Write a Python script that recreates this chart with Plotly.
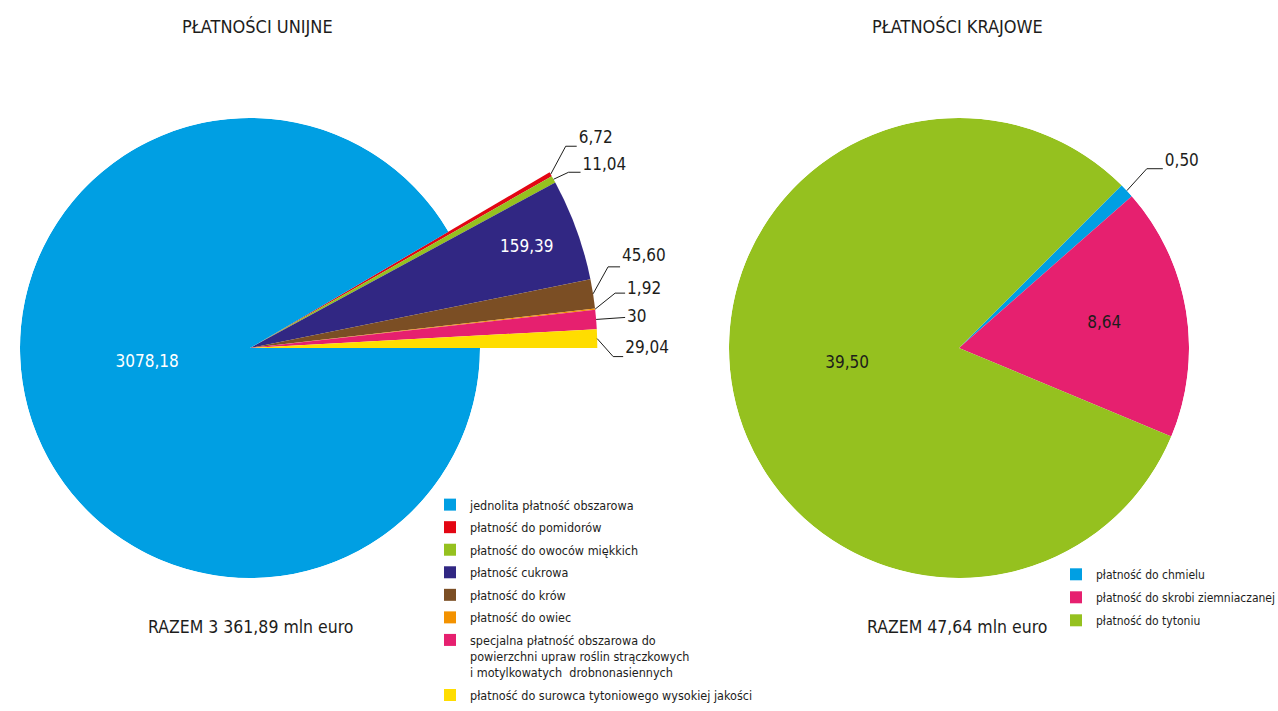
import math
import plotly.graph_objects as go

# ---------------- data ----------------
eu_labels = [
    "jednolita płatność obszarowa",
    "płatność do pomidorów",
    "płatność do owoców miękkich",
    "płatność cukrowa",
    "płatność do krów",
    "płatność do owiec",
    "specjalna płatność obszarowa do<br>powierzchni upraw roślin strączkowych<br>i motylkowatych  drobnonasiennych",
    "płatność do surowca tytoniowego wysokiej jakości",
]
eu_values = [3078.18, 6.72, 11.04, 159.39, 45.60, 1.92, 30, 29.04]
eu_colors = ["#009FE3", "#E30613", "#95C11F", "#312783", "#7B4E24", "#F39200", "#E6206F", "#FFDD00"]

pl_labels = ["płatność do chmielu", "płatność do skrobi ziemniaczanej", "płatność do tytoniu"]
pl_values = [0.50, 8.64, 39.50]
pl_colors = ["#009FE3", "#E6206F", "#95C11F"]

eu_title = "PŁATNOŚCI UNIJNE"
pl_title = "PŁATNOŚCI KRAJOWE"
eu_total = "RAZEM 3 361,89 mln euro"
pl_total = "RAZEM 47,64 mln euro"

# ---------------- style / layout ----------------
W, H = 1278, 711
FONT = "DejaVu Sans Condensed, DejaVu Sans, sans-serif"
TXT = "#1D1D1B"
PIE_R = 230                 # px radius of the pies
EU_C = (250, 348)           # centre of left pie (px)
PL_C = (959, 348)           # centre of right pie (px)
EU_START = 0                # screen angle (deg, ccw from 3 o'clock) where the first slice starts
PL_START = 45
R_OUT = 1.51                # radius of the enlarged slices, in pie radii
EU_RANGE = 1.95
PL_RANGE = 1.45
LBL = 17
LEG = 12.5
LEG2 = 12

# leader-line offsets in px: (dx to elbow, dy to elbow (up), horizontal tail, text dy)
eu_leaders = {1: (15, 28, 11, 7), 2: (15, 7, 12, 7), 4: (15, 27, 12, 10),
              5: (20, 16, 10, 3), 6: (29, 2, 0, 0), 7: (16, -18, 10, 8)}
pl_leaders = {0: (20, 22, 16, 7)}
# inside-label placement: (radius fraction, dx px, dy px, colour)
eu_inside = {0: (0.45, -3, 12, "white"), 3: (1.28, 0, 0, "white")}
pl_inside = {1: (0.64, 0, 0, TXT), 2: (0.50, 1, 7, TXT)}


def fmt(v):
    if float(v).is_integer():
        return str(int(v))
    return f"{v:.2f}".replace(".", ",")


def slice_angles(values):
    tot = sum(values)
    out, acc = [], 0.0
    for v in values:
        span = v / tot * 360.0
        out.append((acc + span / 2.0, span))
        acc += span
    return out


def sector_bbox(s0, s1):
    pts = [(0.0, 0.0)]
    for a in (s0, s1):
        pts.append((math.cos(math.radians(a)), math.sin(math.radians(a))))
    for a in range(-360, 721, 90):
        if s0 <= a <= s1:
            pts.append((math.cos(math.radians(a)), math.sin(math.radians(a))))
    xs = [p[0] for p in pts]
    ys = [p[1] for p in pts]
    return min(xs), min(ys), max(xs), max(ys)


def polar_domain(c, rpx, sector):
    x0, y0, x1, y1 = sector_bbox(*sector)
    left, right = c[0] + rpx * x0, c[0] + rpx * x1
    top, bottom = c[1] - rpx * y1, c[1] - rpx * y0
    return dict(x=[left / W, right / W], y=[(H - bottom) / H, (H - top) / H])


def offset_polar(theta, r, dx, dy, rot):
    # polar axis: clockwise, theta=0 at screen angle `rot`
    a = math.radians(rot - theta)
    x, y = r * math.cos(a) + dx / PIE_R, r * math.sin(a) + dy / PIE_R
    return rot - math.degrees(math.atan2(y, x)), math.hypot(x, y)


def text_trace(subplot, theta, r, text, color, pos):
    return go.Scatterpolar(r=[r], theta=[theta], mode="text", text=[text], textposition=pos,
                           textfont=dict(color=color, size=LBL, family=FONT),
                           subplot=subplot, showlegend=False, hoverinfo="skip")


def leader_traces(subplot, theta, r, spec, text, rot):
    dx1, dy1, dx2, tdy = spec
    th1, r1 = offset_polar(theta, r, dx1, dy1, rot)
    th2, r2 = offset_polar(theta, r, dx1 + dx2, dy1, rot)
    th3, r3 = offset_polar(theta, r, dx1 + dx2 + 2, dy1 + tdy, rot)
    line = go.Scatterpolar(r=[r, r1, r2], theta=[theta, th1, th2], mode="lines",
                           line=dict(color=TXT, width=1), subplot=subplot,
                           showlegend=False, hoverinfo="skip")
    return [line, text_trace(subplot, th3, r3, text, TXT, "middle right")]


fig = go.Figure()

# ---------- left chart: one bar (slice) per category ----------
eu_ang = slice_angles(eu_values)
for i, (lab, val, col) in enumerate(zip(eu_labels, eu_values, eu_colors)):
    big = (i == 0)
    fig.add_trace(go.Barpolar(
        r=[1.0 if big else R_OUT], theta=[eu_ang[i][0]], width=[eu_ang[i][1]],
        marker=dict(color=col, line=dict(width=0)), name=lab,
        subplot="polar3" if big else "polar",
        legend="legend", legendgroup=f"eu{i}", showlegend=True,
        hovertemplate=f"{fmt(val)}<extra></extra>",
    ))
for i, (rf, dx, dy, col) in eu_inside.items():
    th, r = offset_polar(eu_ang[i][0], rf, dx, dy, EU_START)
    fig.add_trace(text_trace("polar3" if i == 0 else "polar", th, r, fmt(eu_values[i]), col,
                             "middle center"))
for i, spec in eu_leaders.items():
    for t in leader_traces("polar", eu_ang[i][0], R_OUT, spec, fmt(eu_values[i]), EU_START):
        fig.add_trace(t)

# ---------- right chart ----------
pl_ang = slice_angles(pl_values)
for i, (lab, val, col) in enumerate(zip(pl_labels, pl_values, pl_colors)):
    fig.add_trace(go.Barpolar(
        r=[1.0], theta=[pl_ang[i][0]], width=[pl_ang[i][1]],
        marker=dict(color=col, line=dict(width=0)), name=lab, subplot="polar4",
        legend="legend2", legendgroup=f"pl{i}", showlegend=True,
        hovertemplate=f"{fmt(val)}<extra></extra>",
    ))
for i, (rf, dx, dy, col) in pl_inside.items():
    th, r = offset_polar(pl_ang[i][0], rf, dx, dy, PL_START)
    fig.add_trace(text_trace("polar4", th, r, fmt(pl_values[i]), col, "middle center"))
for i, spec in pl_leaders.items():
    for t in leader_traces("polar2", pl_ang[i][0], 1.0, spec, fmt(pl_values[i]), PL_START):
        fig.add_trace(t)

EU_SECTOR = [-6, 40]
PL_SECTOR = [28, 58]
FULL = [0, 360]
hidden_polar = dict(
    bgcolor="rgba(0,0,0,0)", bargap=0,
    radialaxis=dict(visible=False, showgrid=False, showline=False, showticklabels=False),
    angularaxis=dict(visible=False, showgrid=False, showline=False, showticklabels=False,
                     direction="clockwise"),
)
fig.update_layout(
    polar=dict(**hidden_polar, sector=EU_SECTOR, domain=polar_domain(EU_C, EU_RANGE * PIE_R, EU_SECTOR)),
    polar2=dict(**hidden_polar, sector=PL_SECTOR, domain=polar_domain(PL_C, PL_RANGE * PIE_R, PL_SECTOR)),
    polar3=dict(**hidden_polar, sector=FULL, domain=polar_domain(EU_C, PIE_R, FULL)),
    polar4=dict(**hidden_polar, sector=FULL, domain=polar_domain(PL_C, PIE_R, FULL)),
)
fig.update_layout(
    polar_radialaxis_range=[0, EU_RANGE], polar_angularaxis_rotation=EU_START,
    polar2_radialaxis_range=[0, PL_RANGE], polar2_angularaxis_rotation=PL_START,
    polar3_radialaxis_range=[0, 1], polar3_angularaxis_rotation=EU_START,
    polar4_radialaxis_range=[0, 1], polar4_angularaxis_rotation=PL_START,
)

fig.update_layout(
    width=W, height=H, margin=dict(l=0, r=0, t=0, b=0, autoexpand=False), autosize=False,
    paper_bgcolor="white", plot_bgcolor="white",
    font=dict(family=FONT, color=TXT, size=LEG),
    separators=", ",
    legend=dict(x=430 / W, y=(H - 490) / H, xanchor="left", yanchor="top",
                bgcolor="rgba(0,0,0,0)", font=dict(size=LEG, family=FONT, color=TXT),
                valign="top", tracegroupgap=3.3, traceorder="grouped"),
    legend2=dict(x=1056 / W, y=(H - 560) / H, xanchor="left", yanchor="top",
                 bgcolor="rgba(0,0,0,0)", font=dict(size=LEG2, family=FONT, color=TXT),
                 valign="top", tracegroupgap=4, traceorder="grouped"),
    annotations=[
        dict(text=eu_title, x=257 / W, y=(H - 27) / H, xref="paper", yref="paper",
             xanchor="center", yanchor="middle",
             showarrow=False, font=dict(size=18, family=FONT, color=TXT)),
        dict(text=pl_title, x=957 / W, y=(H - 27) / H, xref="paper", yref="paper",
             xanchor="center", yanchor="middle",
             showarrow=False, font=dict(size=18, family=FONT, color=TXT)),
        dict(text=eu_total, x=250 / W, y=(H - 627) / H, xref="paper", yref="paper",
             xanchor="center", yanchor="middle",
             showarrow=False, font=dict(size=17.5, family=FONT, color=TXT)),
        dict(text=pl_total, x=957 / W, y=(H - 627) / H, xref="paper", yref="paper",
             xanchor="center", yanchor="middle",
             showarrow=False, font=dict(size=17.5, family=FONT, color=TXT)),
    ],
)

fig.write_html("out.html", config={"displayModeBar": False},
               post_script="document.body.style.margin='0px';")
